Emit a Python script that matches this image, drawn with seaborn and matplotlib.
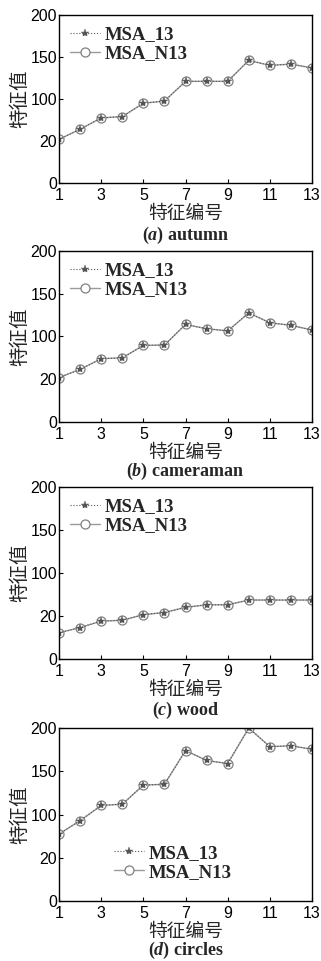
import matplotlib
matplotlib.use("Agg")
import matplotlib.pyplot as plt
import seaborn as sns
import pandas as pd

features = list(range(1, 14))
autumn = [52, 64, 77.5, 79, 95, 97.5, 121, 121, 121, 146, 140, 141.5, 137]
cameraman = [52, 61.5, 74, 75, 89.5, 90, 114, 109, 106.5, 127.5, 116, 113, 107.5]
wood = [30.5, 36.5, 44, 45, 51.5, 54, 60, 63, 63, 68.5, 68.5, 68.5, 68.5]
circles = [77.5, 93, 110.5, 112, 134, 135, 174, 162.5, 159, 200, 178.5, 179.5, 175.5]
series_names = ["MSA_13", "MSA_N13"]
captions = [("a", "autumn"), ("b", "cameraman"), ("c", "wood"), ("d", "circles")]
panel_data = [autumn, cameraman, wood, circles]
xtick_vals = [1, 3, 5, 7, 9, 11, 13]
ytick_vals = [0, 50, 100, 150, 200]
ytick_labels = ["0", "20", "100", "150", "200"]
xlabel = "特征编号"
ylabel = "特征值"

sns.set_style("ticks")
plt.rcParams["font.family"] = ["Liberation Sans", "DejaVu Sans"]
plt.rcParams["mathtext.fontset"] = "custom"
plt.rcParams["mathtext.it"] = "Liberation Serif:italic:bold"
plt.rcParams["mathtext.rm"] = "Liberation Serif:bold"

fig = plt.figure(figsize=(3.21, 9.61), dpi=100)
positions = [
    (0.184, 0.8096, 0.788, 0.1748),
    (0.184, 0.5609, 0.788, 0.1780),
    (0.184, 0.3143, 0.788, 0.1790),
    (0.184, 0.0624, 0.788, 0.1800),
]
cjk = ["Noto Sans CJK SC", "DejaVu Sans"]
cap_y = [-0.31, -0.29, -0.30, -0.285]

for i, (vals, pos, cap) in enumerate(zip(panel_data, positions, captions)):
    ax = fig.add_axes(pos)
    df = pd.DataFrame({"x": features, "y": vals})
    sns.lineplot(data=df, x="x", y="y", ax=ax, color="#9a9a9a", linewidth=1.0,
                 marker="o", markersize=6.5, markerfacecolor="white",
                 markeredgecolor="#808080", markeredgewidth=0.9, label=series_names[1])
    sns.lineplot(data=df, x="x", y="y", ax=ax, color="#555555", linewidth=0.8,
                 linestyle=":", marker="*", markersize=6, markerfacecolor="#555555",
                 markeredgecolor="#555555", markeredgewidth=0.3, label=series_names[0])
    ax.set_xlim(1, 13)
    ax.set_ylim(0, 200)
    ax.set_xticks(xtick_vals)
    ax.set_xticklabels([str(v) for v in xtick_vals])
    ax.set_yticks(ytick_vals)
    ax.set_yticklabels(ytick_labels)
    ax.tick_params(direction="in", length=3, width=0.8, labelsize=11.5, colors="black")
    ax.tick_params(axis="x", pad=3.5)
    ax.tick_params(axis="y", pad=1.5)
    for s in ax.spines.values():
        s.set_linewidth(1.0)
        s.set_color("black")
    ax.set_xlabel(xlabel, family=cjk, fontsize=13.5, labelpad=0)
    ax.set_ylabel(ylabel, family=cjk, fontsize=14, labelpad=0)
    h, l = ax.get_legend_handles_labels()
    order = [1, 0]
    prop = {"family": "Liberation Serif", "weight": "bold", "size": 13.5}
    if i < 3:
        ax.legend([h[k] for k in order], [l[k] for k in order], loc="upper left",
                  bbox_to_anchor=(0.0, 1.0), frameon=False, handlelength=1.6,
                  handletextpad=0.25, labelspacing=0.1, borderaxespad=0.2, prop=prop)
    else:
        ax.legend([h[k] for k in order], [l[k] for k in order], loc="center",
                  bbox_to_anchor=(0.45, 0.22), frameon=False, handlelength=1.6,
                  handletextpad=0.25, labelspacing=0.1, prop=prop)
    ax.text(0.5, cap_y[i], r"($\mathit{%s}$) %s" % cap, transform=ax.transAxes,
            ha="center", va="center", fontsize=13, family="Liberation Serif", weight="bold")

fig.savefig("out.png", dpi=100)
